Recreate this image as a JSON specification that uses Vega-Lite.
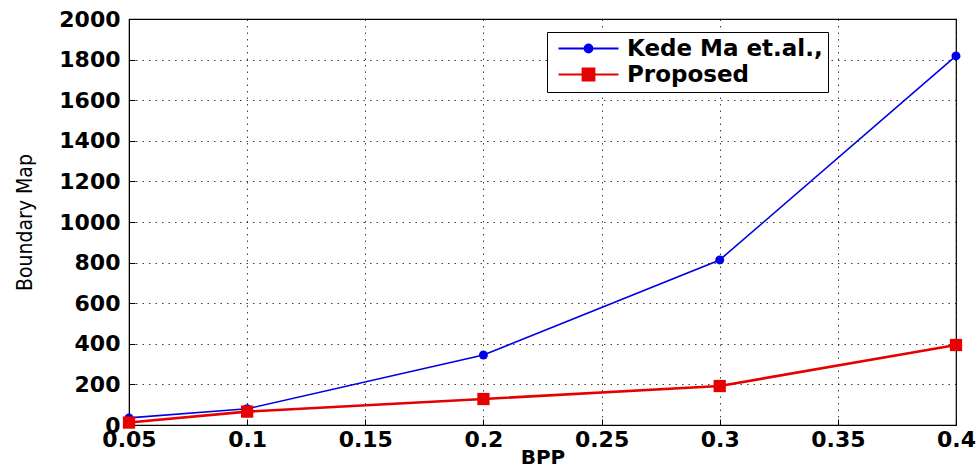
{
  "$schema": "https://vega.github.io/schema/vega-lite/v6.json",
  "width": 827,
  "height": 406,
  "autosize": "none",
  "padding": {"left": 129, "top": 19, "right": 23, "bottom": 47},
  "background": "white",
  "config": {
    "view": {"stroke": "black", "strokeWidth": 1.2},
    "axis": {
      "domainColor": "black",
      "tickColor": "black",
      "gridColor": "black",
      "gridDash": [1.5, 5],
      "gridOpacity": 0.75,
      "labelFont": "DejaVu Sans",
      "labelFontWeight": "bold",
      "labelFontSize": 22,
      "labelColor": "black",
      "titleColor": "black"
    }
  },
  "data": {
    "values": [
      {"bpp": 0.05, "value": 35, "series": "Kede Ma et.al.,"},
      {"bpp": 0.1, "value": 80, "series": "Kede Ma et.al.,"},
      {"bpp": 0.2, "value": 345, "series": "Kede Ma et.al.,"},
      {"bpp": 0.3, "value": 813, "series": "Kede Ma et.al.,"},
      {"bpp": 0.4, "value": 1818, "series": "Kede Ma et.al.,"},
      {"bpp": 0.05, "value": 12, "series": "Proposed"},
      {"bpp": 0.1, "value": 66, "series": "Proposed"},
      {"bpp": 0.2, "value": 128, "series": "Proposed"},
      {"bpp": 0.3, "value": 192, "series": "Proposed"},
      {"bpp": 0.4, "value": 394, "series": "Proposed"}
    ]
  },
  "encoding": {
    "x": {
      "field": "bpp",
      "type": "quantitative",
      "scale": {"domain": [0.05, 0.4], "nice": false, "zero": false},
      "axis": {
        "values": [0.05, 0.1, 0.15, 0.2, 0.25, 0.3, 0.35, 0.4],
        "format": "~g",
        "title": "BPP",
        "titleFont": "DejaVu Sans",
        "titleFontWeight": "bold",
        "titleFontSize": 20,
        "titlePadding": -3,
        "tickSize": -6,
        "labelPadding": 10,
        "labelFlush": false
      }
    },
    "y": {
      "field": "value",
      "type": "quantitative",
      "scale": {"domain": [0, 2000], "nice": false},
      "axis": {
        "values": [0, 200, 400, 600, 800, 1000, 1200, 1400, 1600, 1800, 2000],
        "format": "d",
        "title": "Boundary Map",
        "titleFont": "DejaVu Sans Condensed, Liberation Sans",
        "titleFontWeight": "normal",
        "titleFontSize": 21,
        "titlePadding": 23,
        "tickSize": -6,
        "labelPadding": 15,
        "labelFlush": false
      }
    },
    "color": {
      "field": "series",
      "type": "nominal",
      "scale": {"domain": ["Kede Ma et.al.,", "Proposed"], "range": ["#0000e6", "#e60000"]},
      "legend": {
        "title": null,
        "orient": "none",
        "legendX": 418,
        "legendY": 13,
        "padding": 5,
        "strokeColor": "black",
        "fillColor": "white",
        "labelFont": "DejaVu Sans",
        "labelFontWeight": "bold",
        "labelFontSize": 23,
        "labelColor": "black",
        "labelLimit": 0,
        "symbolSize": 400,
        "symbolStrokeWidth": 1.8,
        "symbolOffset": 25,
        "rowPadding": 2,
        "labelOffset": 27,
        "encode": {
          "symbols": {
            "update": {
              "shape": {"signal": "datum.value === 'Proposed' ? 'M-3,0H-0.6V-0.6H0.6V0H3M-0.6,0V0.6H0.6V0' : 'M-3,0H-0.4A0.4,0.4 0 1,1 0.4,0H3M-0.4,0A0.4,0.4 0 1,0 0.4,0'"},
              "fill": {"signal": "datum.value === 'Proposed' ? '#e60000' : '#0000e6'"},
              "stroke": {"signal": "datum.value === 'Proposed' ? '#e60000' : '#0000e6'"},
              "opacity": {"value": 1},
              "fillOpacity": {"value": 1}
            }
          }
        }
      }
    }
  },
  "layer": [
    {
      "transform": [{"filter": "datum.series === 'Kede Ma et.al.,'"}],
      "mark": {"type": "line", "strokeWidth": 1.6}
    },
    {
      "transform": [{"filter": "datum.series === 'Proposed'"}],
      "mark": {"type": "line", "strokeWidth": 2.6}
    },
    {
      "transform": [{"filter": "datum.series === 'Kede Ma et.al.,'"}],
      "mark": {"type": "point", "shape": "circle", "filled": true, "opacity": 1, "size": 80}
    },
    {
      "transform": [{"filter": "datum.series === 'Proposed'"}],
      "mark": {"type": "point", "shape": "square", "filled": true, "opacity": 1, "size": 150}
    }
  ]
}
